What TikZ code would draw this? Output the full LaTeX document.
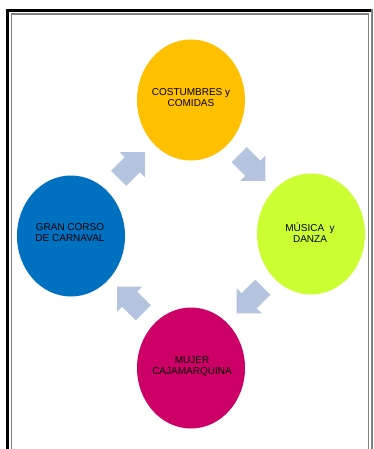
\documentclass[tikz,border=0pt]{standalone}
\usepackage{fontspec}
\setmainfont{Liberation Sans}
\usetikzlibrary{shapes.geometric,shapes.arrows}
\definecolor{costumbresfill}{RGB}{255,192,0}
\definecolor{musicafill}{RGB}{204,255,51}
\definecolor{mujerfill}{RGB}{204,0,102}
\definecolor{corsofill}{RGB}{0,112,192}
\definecolor{turnfill}{RGB}{180,196,222}
\definecolor{framegray}{RGB}{128,128,128}

\begin{document}
\begin{tikzpicture}[x=1pt,y=1pt]
\tikzstyle{every node}+=[inner sep=0pt]
\tikzstyle{bubble}=[ellipse, minimum width=108pt, minimum height=121pt]
\tikzstyle{caption}=[align=center, font=\fontsize{10}{11}\selectfont]
\tikzstyle{turn}=[single arrow, fill=turnfill, minimum height=37pt, inner ysep=10.5pt, single arrow head extend=7pt, single arrow tip angle=90]
\useasboundingbox (0,0) rectangle (374,-449);
\draw [black, line width=3pt] (7.5,-460) -- (7.5,-10.5) -- (372,-10.5);
\draw [framegray, line width=1.2pt] (11.8,-460) -- (11.8,-14) -- (368.5,-14) -- (368.5,-460);
\draw [framegray, line width=2.5pt] (372.2,-9) -- (372.2,-460);
\node [bubble, fill=costumbresfill] (costumbres) at (191,-100) {};
\node [caption] (costumbrestext) at (191,-98) {COSTUMBRES y\\COMIDAS};
\node [bubble, fill=musicafill] (musica) at (311,-234) {};
\node [caption] (musicatext) at (310,-233) {MÚSICA~ y\\DANZA};
\node [bubble, fill=mujerfill] (mujer) at (191,-368) {};
\node [caption] (mujertext) at (192,-367) {MUJER\\CAJAMARQUINA};
\node [bubble, fill=corsofill] (corso) at (71,-236) {};
\node [caption] (corsotext) at (70,-233) {GRAN CORSO\\DE CARNAVAL};
\node [turn, rotate=-45] (turn1) at (248.5,-164) {};
\node [turn, rotate=-135] (turn2) at (253.5,-296.5) {};
\node [turn, rotate=135] (turn3) at (134,-303.5) {};
\node [turn, rotate=45] (turn4) at (128,-169) {};
\end{tikzpicture}
\end{document}
